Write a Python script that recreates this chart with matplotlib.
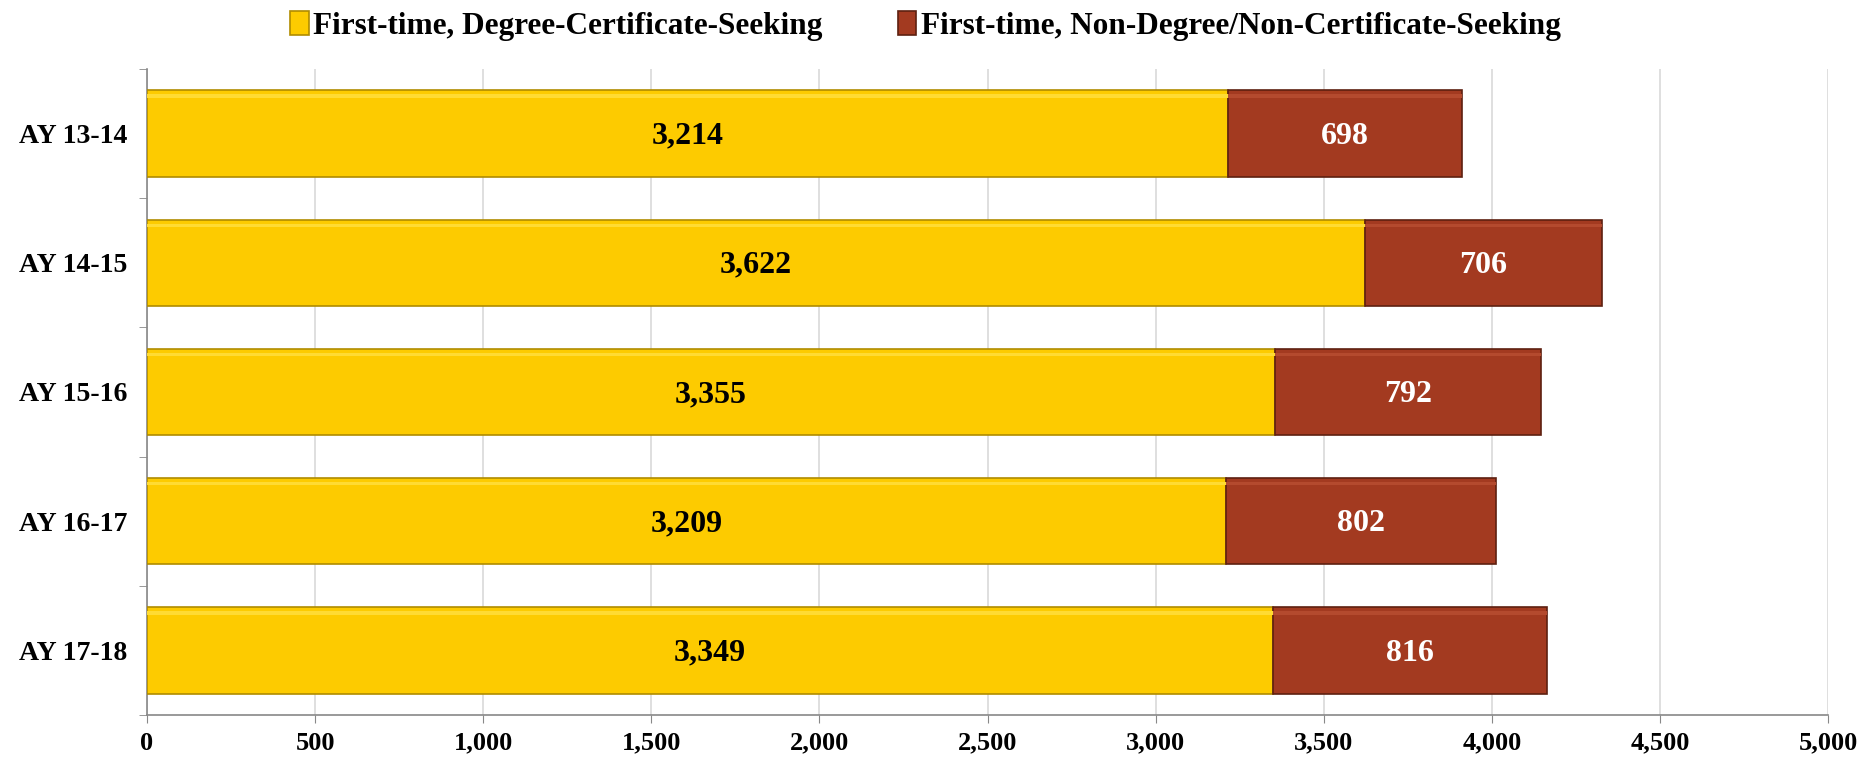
import numpy as np
import matplotlib.pyplot as plt
from matplotlib.ticker import FuncFormatter, FixedLocator

years = ['AY 13-14', 'AY 14-15', 'AY 15-16', 'AY 16-17', 'AY 17-18']
degree_seeking = [3214, 3622, 3355, 3209, 3349]
non_degree = [698, 706, 792, 802, 816]
series_names = ['First-time, Degree-Certificate-Seeking',
                'First-time, Non-Degree/Non-Certificate-Seeking']

plt.rcParams['font.family'] = ['Liberation Serif', 'DejaVu Serif']

fig = plt.figure(figsize=(18.75, 7.58), dpi=100)
ax = fig.add_axes([0.0784, 0.0567, 0.8966, 0.8523])

y = np.arange(len(years))
bar_h = 0.67
yellow = '#FDCB00'
brown = '#A33A20'

b1 = ax.barh(y, degree_seeking, height=bar_h, color=yellow,
             edgecolor='#B08C00', linewidth=1.2, label=series_names[0], zorder=3)
b2 = ax.barh(y, non_degree, left=degree_seeking, height=bar_h, color=brown,
             edgecolor='#5E2010', linewidth=1.2, label=series_names[1], zorder=3)

# subtle highlight strip along top of bars for the bevel look
ax.barh(y - bar_h / 2 + 0.045, degree_seeking, height=0.025, color='#FFDB33',
        linewidth=0, zorder=4)
ax.barh(y - bar_h / 2 + 0.045, non_degree, left=degree_seeking, height=0.025,
        color='#B44A2E', linewidth=0, zorder=4)

for i in range(len(years)):
    ax.text(degree_seeking[i] / 2, y[i] + 0.02, f'{degree_seeking[i]:,}', ha='center',
            va='center', fontsize=23, fontweight='bold', color='black', zorder=5)
    ax.text(degree_seeking[i] + non_degree[i] / 2, y[i] + 0.02, f'{non_degree[i]:,}',
            ha='center', va='center', fontsize=23, fontweight='bold',
            color='white', zorder=5)

ax.set_xlim(0, 5000)
ax.set_ylim(len(years) - 0.5, -0.5)
ax.set_xticks(np.arange(0, 5001, 500))
ax.xaxis.set_major_formatter(FuncFormatter(lambda v, p: f'{int(v):,}'))
ax.set_yticks(y)
ax.set_yticklabels(years)
ax.yaxis.set_minor_locator(FixedLocator(np.arange(-0.5, len(years), 1)))
ax.tick_params(axis='y', which='major', length=0, pad=14, labelsize=20)
ax.tick_params(axis='y', which='minor', length=6, color='#888888', direction='out')
ax.tick_params(axis='x', length=6, color='#888888', pad=6, labelsize=19)
for lab in ax.get_xticklabels() + ax.get_yticklabels():
    lab.set_fontweight('bold')

ax.grid(axis='x', color='#D9D9D9', linewidth=1.2, zorder=0)
ax.set_axisbelow(True)
for s in ['top', 'right']:
    ax.spines[s].set_visible(False)
ax.spines['left'].set_color('#888888')
ax.spines['bottom'].set_color('#888888')
ax.spines['left'].set_linewidth(1.2)
ax.spines['bottom'].set_linewidth(1.2)

leg = fig.legend(handles=[b1, b2], loc='center', bbox_to_anchor=(0.4935, 0.966),
                 ncol=2, frameon=False, handlelength=0.6,
                 handleheight=0.8, handletextpad=0.15, columnspacing=2.4,
                 prop={'weight': 'bold', 'size': 22.5})

fig.savefig('out.png', dpi=100)
